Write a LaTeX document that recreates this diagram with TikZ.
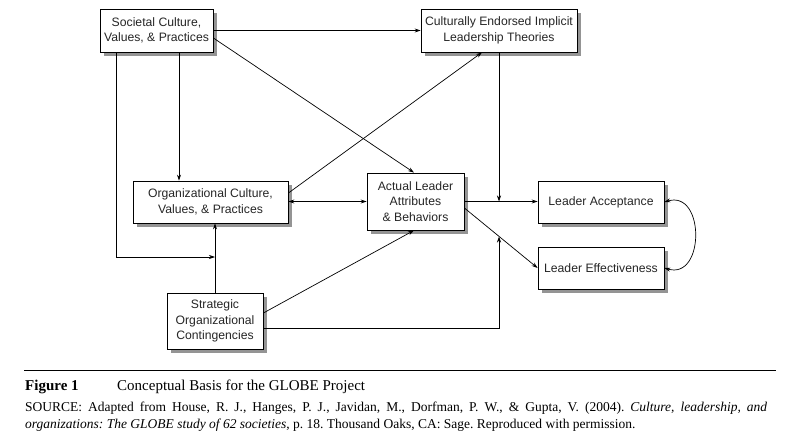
\documentclass[tikz,border=0pt]{standalone}
\usepackage{fontspec}
\setmainfont{Liberation Serif}
\setsansfont{Liberation Sans}
\usetikzlibrary{arrows.meta,shadows}
\begin{document}
\frenchspacing
\begin{tikzpicture}[x=1pt,y=-1pt,
  box/.style={draw, line width=0.8pt, fill=white, text=black!85,
    font=\sffamily\fontsize{12.2}{15.5}\selectfont, align=center, inner sep=0pt,
    drop shadow={shadow xshift=3.5pt, shadow yshift=-3.5pt, fill=black!42, opacity=1}},
  conn/.style={line width=0.7pt},
  arr/.style={conn, -{Stealth[length=6pt,width=4pt]}},
  darr/.style={conn, {Stealth[length=6pt,width=4pt]}-{Stealth[length=6pt,width=4pt]}}]
\useasboundingbox (0,0) rectangle (807,447);
\fill[white] (0,0) rectangle (807,447);

\node[box, minimum width=113pt, minimum height=43pt] (soc) at (156.5,30.5) {Societal Culture,\\Values, \& Practices};
\node[box, minimum width=156pt, minimum height=43pt] (ceil) at (499,30.5) {Culturally Endorsed Implicit\\Leadership Theories};
\node[box, minimum width=155pt, minimum height=42pt] (org) at (210.5,202) {Organizational Culture,\\Values, \& Practices};
\node[box, minimum width=97pt, minimum height=57pt] (act) at (415.5,201.5) {Actual Leader\\Attributes\\\& Behaviors};
\node[box, minimum width=126pt, minimum height=42pt] (acc) at (601,202) {Leader Acceptance};
\node[box, minimum width=126pt, minimum height=42pt] (eff) at (601,268) {Leader Effectiveness};
\node[box, minimum width=96pt, minimum height=56pt] (strat) at (215,321) {Strategic\\Organizational\\Contingencies};

\coordinate (j1) at (215,257);
\coordinate (j2) at (499,201.5);
\coordinate (j3) at (499,236.5);

\draw[arr] (soc.east) -- (ceil.west);
\draw[arr] (soc.east |- 0,38) -- (act.north -| 414,0);
\draw[arr] (soc.south -| 116,0) -- (116,257) -- (j1);
\draw[arr] (soc.south -| 179,0) -- (org.north -| 179,0);
\draw[arr] (strat.north) -- (strat.north |- org.south);
\draw[darr] (org.east |- 0,201.5) -- (act.west);
\draw[arr] (org.east |- 0,193) -- (ceil.south -| 482,0);
\draw[arr] (ceil.south) -- (j2);
\draw[arr] (act.east) -- (acc.west |- act.east);
\draw[arr] (act.east |- 0,208) -- (eff.west);
\draw[arr] (strat.east |- 0,313) -- (act.south -| 414,0);
\draw[arr] (strat.east |- 0,328) -- (499,328) -- (j3);
\draw[darr] (acc.east) .. controls (705,190) and (705,280) .. (eff.east);

\draw[line width=1pt] (24,370) coordinate (r1) -- (776,370) coordinate (r2);
\node[anchor=base west, inner sep=0pt, font=\fontsize{15}{18}\selectfont\bfseries] (fig) at (25,390.5) {Figure 1};
\node[anchor=base west, inner sep=0pt, font=\fontsize{15}{18}\selectfont] (title) at (117,390.5) {Conceptual Basis for the GLOBE Project};
\node[anchor=base west, inner sep=0pt, text width=742pt, align=justify,
  font=\fontsize{13.5}{16.3}\selectfont] (src) at (25,411.7)
  {\hyphenpenalty=10000 SOURCE: Adapted from House, R. J., Hanges, P. J., Javidan, M., Dorfman, P. W., \& Gupta, V. (2004). \textit{Culture, leadership, and}\linebreak \textit{organizations: The GLOBE study of 62 societies}, p. 18. Thousand Oaks, CA: Sage. Reproduced with permission.};
\end{tikzpicture}
\end{document}
